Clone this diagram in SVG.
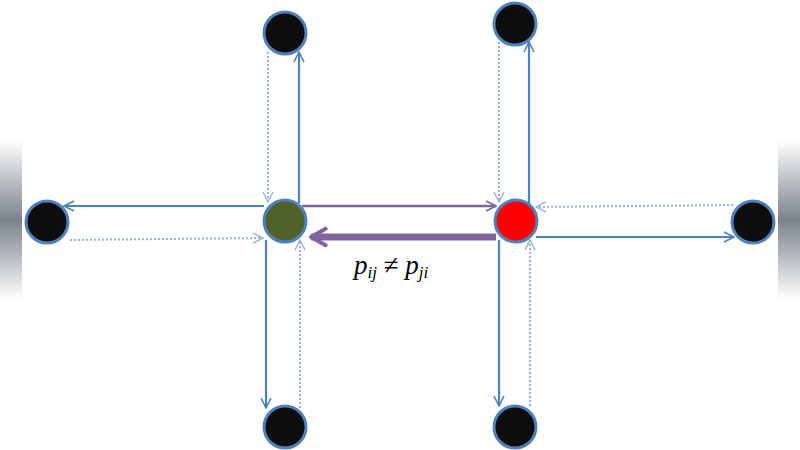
<svg xmlns="http://www.w3.org/2000/svg" width="800" height="450" viewBox="0 0 800 450">
<defs>
<linearGradient id="gl" x1="0" y1="0" x2="0" y2="1"><stop offset="0" stop-color="#fff"/><stop offset="0.5" stop-color="#7a828c"/><stop offset="1" stop-color="#fff"/></linearGradient>
<marker id="a" viewBox="0 0 12 12" refX="11" refY="6" markerWidth="12" markerHeight="12" markerUnits="userSpaceOnUse" orient="auto"><path d="M1,1 L11,6 L1,11" fill="none" stroke="#4f81bd" stroke-width="1.6"/></marker>
<marker id="ad" viewBox="0 0 12 12" refX="11" refY="6" markerWidth="12" markerHeight="12" markerUnits="userSpaceOnUse" orient="auto"><path d="M1,1 L11,6 L1,11" fill="none" stroke="#95b3d7" stroke-width="1.4"/></marker>
<marker id="ap" viewBox="0 0 12 12" refX="11" refY="6" markerWidth="12" markerHeight="12" markerUnits="userSpaceOnUse" orient="auto"><path d="M1,1 L11,6 L1,11" fill="none" stroke="#8064a2" stroke-width="1.6"/></marker>
<marker id="apt" viewBox="0 0 12 12" refX="10" refY="6" markerWidth="22" markerHeight="22" markerUnits="userSpaceOnUse" orient="auto"><path d="M2,1.5 L10,6 L2,10.5" fill="none" stroke="#8064a2" stroke-width="2.2" stroke-linecap="round" stroke-linejoin="round"/></marker>
</defs>
<style>
.s{stroke:#4f81bd;stroke-width:2.2;fill:none;marker-end:url(#a)}
.d{stroke:#95b3d7;stroke-width:2;stroke-dasharray:2 2;fill:none;marker-end:url(#ad)}
.n{stroke:#4f81bd;stroke-width:3}
</style>
<rect width="800" height="450" fill="#fff"/>
<rect x="0" y="140" width="22" height="160" fill="url(#gl)"/>
<rect x="778" y="140" width="22" height="160" fill="url(#gl)"/>
<g id="connectors">
<line class="s" x1="299" y1="203" x2="299" y2="52"/>
<line class="d" x1="268" y1="52" x2="268" y2="202"/>
<line class="s" x1="264" y1="206" x2="64" y2="206"/>
<line class="d" x1="70" y1="240" x2="263" y2="238"/>
<line class="s" x1="266" y1="240" x2="266" y2="408"/>
<line class="d" x1="300" y1="408" x2="300" y2="240"/>
<line x1="302" y1="206" x2="496" y2="206" stroke="#8064a2" stroke-width="2.5" marker-end="url(#ap)"/>
<line x1="496" y1="237" x2="311" y2="237" stroke="#8064a2" stroke-width="7" marker-end="url(#apt)"/>
<line class="s" x1="529" y1="204" x2="529" y2="42"/>
<line class="d" x1="499" y1="42" x2="499" y2="202"/>
<line class="d" x1="733" y1="205" x2="536" y2="207"/>
<line class="s" x1="536" y1="237" x2="734" y2="237"/>
<line class="s" x1="499" y1="240" x2="499" y2="406"/>
<line class="d" x1="530" y1="406" x2="530" y2="240"/>
</g>
<g id="n-green"><circle class="n" cx="285" cy="221" r="21" fill="#4f6228"/></g>
<g id="n-red"><circle class="n" cx="516" cy="221" r="21" fill="#ff0000"/></g>
<g id="n-top-left"><circle class="n" cx="285" cy="33" r="21" fill="#0d0d0d"/></g>
<g id="n-top-right"><circle class="n" cx="515" cy="24" r="21" fill="#0d0d0d"/></g>
<g id="n-left"><circle class="n" cx="47" cy="222" r="21" fill="#0d0d0d"/></g>
<g id="n-right"><circle class="n" cx="753" cy="222" r="21" fill="#0d0d0d"/></g>
<g id="n-bottom-left"><circle class="n" cx="285" cy="427" r="21" fill="#0d0d0d"/></g>
<g id="n-bottom-right"><circle class="n" cx="515" cy="427" r="21" fill="#0d0d0d"/></g>
<text x="354" y="274" font-family="'Liberation Serif', 'DejaVu Serif', serif" font-size="27" font-style="italic" fill="#000">p<tspan font-size="17" dy="4">ij</tspan><tspan dy="-4" font-style="normal"> ≠ </tspan>p<tspan font-size="17" dy="4">ji</tspan></text>
</svg>
